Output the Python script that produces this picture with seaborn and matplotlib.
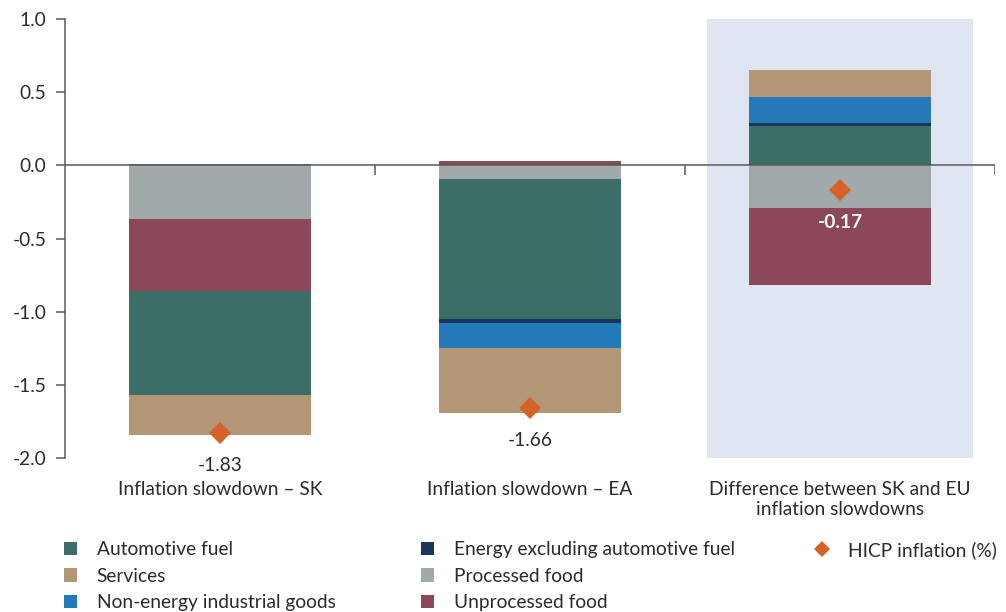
import numpy as np
import pandas as pd
import matplotlib
matplotlib.use("Agg")
import matplotlib.pyplot as plt
from matplotlib.patches import Patch
from matplotlib.lines import Line2D
import seaborn as sns

# ---- data -------------------------------------------------------------
categories = [
    "Inflation slowdown \u2013 SK",
    "Inflation slowdown \u2013 EA",
    "Difference between SK and EU\ninflation slowdowns",
]
processed_food = [-0.37, -0.09, -0.29]
unprocessed_food = [-0.49, 0.03, -0.53]
automotive_fuel = [-0.71, -0.96, 0.27]
energy_excl_fuel = [0.005, -0.03, 0.02]
non_energy_goods = [0.005, -0.17, 0.18]
services = [-0.27, -0.44, 0.18]
hicp = [-1.83, -1.66, -0.17]
hicp_labels = ["-1.83", "-1.66", "-0.17"]

y_ticks = [1.0, 0.5, 0.0, -0.5, -1.0, -1.5, -2.0]

# ---- styling ----------------------------------------------------------
sns.set_theme(style="white")
plt.rcParams["font.family"] = ["Lato", "DejaVu Sans"]

FS = 13.8
colors = {
    "Automotive fuel": "#3b6e66",
    "Services": "#b39675",
    "Non-energy industrial goods": "#2479b9",
    "Energy excluding automotive fuel": "#1c355e",
    "Processed food": "#a1a9aa",
    "Unprocessed food": "#8a4858",
}
hicp_color = "#d6622a"
shade_color = "#dfe6f1"
text_color = "#2b2b2b"
axis_color = "#5a5a5a"

# stacking order: first component sits next to zero
components = [
    ("Processed food", processed_food),
    ("Unprocessed food", unprocessed_food),
    ("Automotive fuel", automotive_fuel),
    ("Energy excluding automotive fuel", energy_excl_fuel),
    ("Non-energy industrial goods", non_energy_goods),
    ("Services", services),
]

fig = plt.figure(figsize=(10.06, 6.12), dpi=100)
ax = fig.add_axes([65 / 1006, 1 - 458 / 612, (995 - 65) / 1006, (458 - 19) / 612])

bar_width = 0.59
pos_base = np.zeros(len(categories))
neg_base = np.zeros(len(categories))
for name, vals in components:
    vals = np.asarray(vals, dtype=float)
    pos = np.where(vals > 0, vals, 0.0)
    neg = np.where(vals < 0, vals, 0.0)
    sns.barplot(x=categories, y=pos, bottom=pos_base, color=colors[name],
                width=bar_width, saturation=1, linewidth=0, ax=ax, zorder=2)
    sns.barplot(x=categories, y=neg, bottom=neg_base, color=colors[name],
                width=bar_width, saturation=1, linewidth=0, ax=ax, zorder=2)
    pos_base += pos
    neg_base += neg

# highlight panel behind the difference bar
ax.axvspan(2 - 0.43, 2 + 0.43, color=shade_color, zorder=0, lw=0)

# HICP markers
sns.pointplot(x=categories, y=hicp, color=hicp_color, marker="D",
              linestyle="none", markersize=11, markeredgewidth=0,
              errorbar=None, ax=ax, zorder=4)
for i, (v, lab) in enumerate(zip(hicp, hicp_labels)):
    inside = i == 2
    ax.annotate(lab, xy=(i, v), xytext=(0, -23.5), textcoords="offset points",
                ha="center", va="center", fontsize=FS,
                color="white" if inside else text_color,
                fontweight="bold" if inside else "normal", zorder=5)

# zero line with category separators
ax.axhline(0, color=axis_color, lw=1.1, zorder=3)
ax.vlines([0.5, 1.5, 2.5], -0.065, 0, color=axis_color, lw=1.1, zorder=3)

ax.set_xlim(-0.5, 2.5)
ax.set_ylim(-2.0, 1.0)
ax.set_yticks(y_ticks)
ax.set_yticklabels([f"{t:.1f}" for t in y_ticks])
ax.set_xlabel("")
ax.set_ylabel("")
for side in ["top", "right", "bottom"]:
    ax.spines[side].set_visible(False)
ax.spines["left"].set_color(axis_color)
ax.spines["left"].set_linewidth(1.1)
ax.tick_params(axis="y", length=6.5, width=1.1, color=axis_color, pad=7,
               labelsize=FS, labelcolor=text_color, left=True)
ax.tick_params(axis="x", length=0, pad=16.5, labelsize=FS, labelcolor=text_color)
for lbl in ax.get_xticklabels():
    lbl.set_linespacing(1.25)

# legend in three columns
def square(name):
    return Patch(facecolor=colors[name], edgecolor="none", label=name)

columns = [
    ([square("Automotive fuel"), square("Services"),
      square("Non-energy industrial goods")], 64),
    ([square("Energy excluding automotive fuel"), square("Processed food"),
      square("Unprocessed food")], 421),
    ([Line2D([], [], marker="D", color=hicp_color, linestyle="none",
             markersize=8, markeredgewidth=0, label="HICP inflation (%)")], 815),
]
for handles, x_px in columns:
    leg = fig.legend(handles=handles, loc="upper left",
                     bbox_to_anchor=(x_px / 1006, 1 - 541 / 612),
                     frameon=False, fontsize=FS, handlelength=0.7,
                     handleheight=0.7, handletextpad=1.0, labelspacing=0.5,
                     borderpad=0, borderaxespad=0)
    for t in leg.get_texts():
        t.set_color(text_color)

fig.savefig("out.png", dpi=100)
